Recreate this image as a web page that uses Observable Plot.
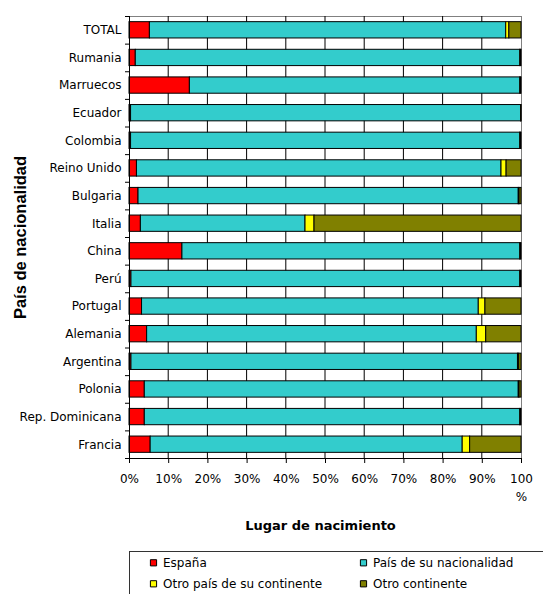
<!DOCTYPE html>
<html>
<head>
<meta charset="utf-8">
<script src="https://cdn.jsdelivr.net/npm/d3@7"></script>
<script src="https://cdn.jsdelivr.net/npm/@observablehq/plot@0.6"></script>
<style>
  html, body { margin: 0; padding: 0; background: #fff; overflow: hidden; }
  #wrap { position: relative; width: 543px; height: 594px; overflow: hidden; }
</style>
</head>
<body>
<div id="wrap"></div>
<script>
const categories = ["TOTAL","Rumania","Marruecos","Ecuador","Colombia","Reino Unido","Bulgaria","Italia","China","Perú","Portugal","Alemania","Argentina","Polonia","Rep. Dominicana","Francia"];
const series = ["España","País de su nacionalidad","Otro país de su continente","Otro continente"];
const colors = ["#FF0000","#33CCCC","#FFFF00","#808000"];
const espana   = [5.2,1.6,15.4,0.4,0.4,1.9,2.3,2.9,13.5,0.5,3.2,4.5,0.5,3.9,3.9,5.4];
const pais     = [90.9,98.1,84.3,99.5,99.3,93.0,97.0,42.0,86.2,99.2,85.9,84.1,98.6,95.4,95.8,79.6];
const otroPais = [0.8,0.1,0.1,0.05,0.1,1.3,0.2,2.3,0.1,0.1,1.7,2.4,0.3,0.2,0.1,1.9];
const otroCont = [3.1,0.2,0.2,0.05,0.2,3.8,0.5,52.8,0.2,0.2,9.2,9.0,0.6,0.5,0.2,13.1];
const xTicks = [0,10,20,30,40,50,60,70,80,90,100];
const xTitle = "Lugar de nacimiento";
const yTitle = "País de nacionalidad";

const valuesBySeries = [espana, pais, otroPais, otroCont];
const data = [];
categories.forEach((c, i) => series.forEach((s, j) => data.push({country: c, series: s, value: valuesBySeries[j][i]})));

const W = 543, H = 594, mL = 129, mR = 22, mT = 16, mB = 136;
const step = (H - mT - mB) / categories.length;
const innerW = W - mL - mR;

const legendTop = 93;
const legendPos = [[24, 104.3], [234, 104.3], [24, 125.3], [234, 125.3]];
const legendMarks = series.flatMap((s, j) => [
  Plot.dot([s], {x: null, y: null, frameAnchor: "bottom-left", dx: legendPos[j][0], dy: legendPos[j][1],
    symbol: "square", r: 3.5, fill: d => d, stroke: "#000", strokeWidth: 1}),
  Plot.text([s], {x: null, y: null, frameAnchor: "bottom-left", dx: legendPos[j][0] + 9.5, dy: legendPos[j][1],
    textAnchor: "start", lineAnchor: "middle", fontSize: 12, fill: "#000"})
]);

const chart = Plot.plot({
  width: W, height: H,
  marginLeft: mL, marginRight: mR, marginTop: mT, marginBottom: mB,
  style: {fontFamily: "DejaVu Sans", fontSize: "12px", background: "#fff", color: "#000"},
  x: {domain: [0, 100]},
  y: {domain: categories, paddingInner: 0.41, paddingOuter: 0.205, round: false},
  color: {domain: series, range: colors},
  marks: [
    Plot.frame({stroke: "#808080"}),
    // vertical gridlines drawn as 1px-wide rects
    Plot.rect(xTicks.slice(1, -1), {x1: d => d, x2: d => d, insetLeft: -0.5, insetRight: -0.5, fill: "#000"}),
    Plot.barX(data, Plot.stackX({x: "value", y: "country", fill: "series", order: series, stroke: "#000", strokeWidth: 1})),
    Plot.tickY(categories, {y: d => d, dy: -step / 2, insetLeft: -4, insetRight: innerW, stroke: "#000"}),
    Plot.tickY(categories.slice(-1), {y: d => d, dy: step / 2, insetLeft: -4, insetRight: innerW, stroke: "#000"}),
    Plot.frame({anchor: "left", stroke: "#000"}),
    Plot.frame({anchor: "bottom", stroke: "#000"}),
    Plot.axisY({tickSize: 0, tickPadding: 8, label: null}),
    Plot.axisX({ticks: xTicks, tickSize: 5, tickPadding: 7, label: null, lineHeight: 1.5,
      tickFormat: d => d === 100 ? "100\n%" : d + "%"}),
    Plot.text([xTitle], {frameAnchor: "bottom", dx: -5, dy: 67, lineAnchor: "middle", textAnchor: "middle", fontWeight: "bold", fontSize: 13, fill: "#000"}),
    Plot.text([yTitle], {frameAnchor: "left", dx: -109, rotate: -90, textAnchor: "middle", lineAnchor: "middle", fontWeight: "bold", fontSize: 16.5, fontFamily: "Liberation Sans", fill: "#000"}),
    Plot.ruleY(categories.slice(-1), {y: d => d, dy: step / 2 + legendTop, insetRight: -30, stroke: "#333"}),
    Plot.ruleX([0], {insetTop: (H - mT - mB) + legendTop, insetBottom: -(mB + 5), stroke: "#333"}),
    ...legendMarks
  ]
});
document.getElementById("wrap").appendChild(chart);
</script>
</body>
</html>
